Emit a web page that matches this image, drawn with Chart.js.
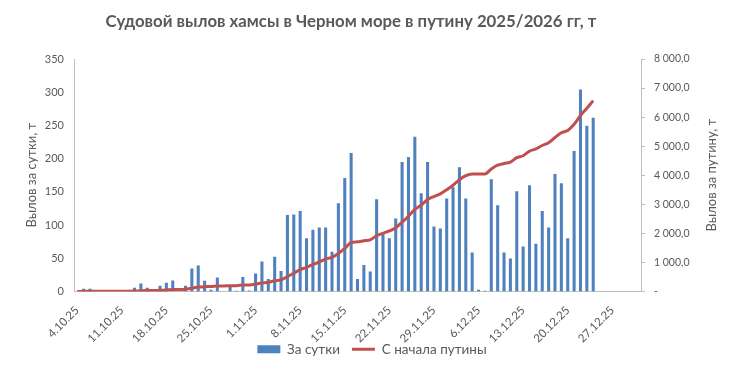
<!DOCTYPE html>
<html>
<head>
<meta charset="utf-8">
<script src="https://cdn.jsdelivr.net/npm/chart.js@4/dist/chart.umd.min.js"></script>
<style>
   html, body { margin: 0; padding: 0; background: #fff; }
   #box { width: 733px; height: 371px; }
</style>
</head>
<body>
<div id="box"><canvas id="chart"></canvas></div>
<script>
// one category per day, 4.10.25 .. 31.12.25
const days = [
   '4.10.25','5.10.25','6.10.25','7.10.25','8.10.25','9.10.25','10.10.25','11.10.25','12.10.25','13.10.25',
   '14.10.25','15.10.25','16.10.25','17.10.25','18.10.25','19.10.25','20.10.25','21.10.25','22.10.25','23.10.25',
   '24.10.25','25.10.25','26.10.25','27.10.25','28.10.25','29.10.25','30.10.25','31.10.25',
   '1.11.25','2.11.25','3.11.25','4.11.25','5.11.25','6.11.25','7.11.25','8.11.25','9.11.25','10.11.25',
   '11.11.25','12.11.25','13.11.25','14.11.25','15.11.25','16.11.25','17.11.25','18.11.25','19.11.25','20.11.25',
   '21.11.25','22.11.25','23.11.25','24.11.25','25.11.25','26.11.25','27.11.25','28.11.25','29.11.25','30.11.25',
   '1.12.25','2.12.25','3.12.25','4.12.25','5.12.25','6.12.25','7.12.25','8.12.25','9.12.25','10.12.25',
   '11.12.25','12.12.25','13.12.25','14.12.25','15.12.25','16.12.25','17.12.25','18.12.25','19.12.25','20.12.25',
   '21.12.25','22.12.25','23.12.25','24.12.25','25.12.25','26.12.25','27.12.25','28.12.25','29.12.25','30.12.25',
   '31.12.25'
];

// labels shown under the x axis
const tickLabels = ['4.10.25','11.10.25','18.10.25','25.10.25','1.11.25','8.11.25','15.11.25',
   '22.11.25','29.11.25','6.12.25','13.12.25','20.12.25','27.12.25'];

// daily catch, t (4.10 .. 24.12)
const perDay = [
   0, 4, 4, 0, 0, 0, 0, 0, 0, 5.5,
   12, 5.5, 0, 8.6, 13, 16.7, 0, 8.6, 34.8, 39,
   16, 2.5, 21, 0, 8.5, 1, 22, 1.5, 27, 45,
   19, 52.5, 31, 115, 116, 121, 80, 93, 96.5, 96.5,
   60, 133, 171, 208.6, 19, 40, 30, 139, 86, 80,
   110, 195, 202.5, 233, 148, 195, 98, 95, 140, 157,
   187, 140, 58.6, 2.5, 1, 169, 130, 58.6, 49.5, 151,
   67.7, 160, 72, 121, 96.5, 177, 163, 80, 211.6, 304,
   249.5, 261.6
];

// running total since the start of the season
const sinceStart = [];
let total = 0;
for (let i = 0; i < perDay.length; i++) {
   total += perDay[i];
   sinceStart.push(Math.round(total * 10) / 10);
}

const chartTitle = 'Судовой вылов хамсы в Черном море в путину 2025/2026 гг, т';
const rightTitle = 'Вылов за путину, т';
const textColor = '#595959';
const axisColor = '#bfbfbf';
const fontName = 'Lato, "Open Sans", sans-serif';

function fmtRight(v) {
   if (v === 0) return '-';
   return v.toFixed(1).replace('.', ',').replace(/\B(?=(\d{3})+(?!\d))/g, ' ');
}

// title and right axis title (Excel writes it bottom-to-top, like the left one)
const extraText = {
   id: 'extraText',
   afterDraw(chart) {
      const ctx = chart.ctx;
      const area = chart.chartArea;
      ctx.save();
      ctx.fillStyle = textColor;
      ctx.textAlign = 'center';
      ctx.textBaseline = 'middle';
      ctx.font = 'bold 16.8px ' + fontName;
      ctx.fillText(chartTitle, 351, 22);
      const s = chart.scales.y1;
      ctx.translate(s.right - 12, (area.top + area.bottom) / 2);
      ctx.rotate(-Math.PI / 2);
      ctx.font = '13px ' + fontName;
      ctx.fillText(rightTitle, 0, 0);
      ctx.restore();
   }
};

new Chart(document.getElementById('chart'), {
   type: 'bar',
   data: {
      labels: days,
      datasets: [{
         type: 'bar',
         label: 'За сутки',
         data: perDay,
         backgroundColor: '#4f81bd',
         borderWidth: 0,
         barPercentage: 0.48,
         categoryPercentage: 1,
         yAxisID: 'y',
         pointStyle: 'rect',
         order: 1
      }, {
         type: 'line',
         label: 'С начала путины',
         data: sinceStart,
         borderColor: '#c0504d',
         backgroundColor: '#c0504d',
         borderWidth: 3,
         pointRadius: 0,
         cubicInterpolationMode: 'monotone',
         yAxisID: 'y1',
         pointStyle: 'line',
         order: 0
      }]
   },
   plugins: [extraText],
   options: {
      responsive: true,
      maintainAspectRatio: false,
      animation: false,
      layout: {
         padding: { left: 20, right: 9, top: 59, bottom: 5 }
      },
      scales: {
         x: {
            offset: true,
            grid: { display: false, drawTicks: false },
            border: { display: true, color: axisColor },
            ticks: {
               autoSkip: false,
               maxRotation: 45,
               minRotation: 45,
               padding: 12,
               color: textColor,
               font: { family: fontName, size: 11.5 },
               callback: function (value, index) {
                  const s = days[index];
                  return tickLabels.indexOf(s) >= 0 ? s : '';
               }
            },
            afterFit: function (scale) {
               scale.height = 39;
               // the rotated dates run a little into the legend band, do not cut them
               scale._computeLabelArea = function () { return undefined; };
            }
         },
         y: {
            position: 'left',
            min: 0,
            max: 350,
            grid: { display: false, drawTicks: false },
            border: { display: true, color: axisColor },
            ticks: {
               stepSize: 50,
               padding: 10,
               color: textColor,
               font: { family: fontName, size: 11 }
            },
            title: {
               display: true,
               text: 'Вылов за сутки, т',
               color: textColor,
               font: { family: fontName, size: 13 }
            },
            afterFit: function (scale) { scale.width = 54; }
         },
         y1: {
            position: 'right',
            min: 0,
            max: 8000,
            grid: { display: true, drawOnChartArea: false, drawTicks: true, tickLength: 4, color: axisColor },
            border: { display: true, color: axisColor },
            ticks: {
               stepSize: 1000,
               padding: 9,
               color: textColor,
               font: { family: fontName, size: 10.5 },
               callback: function (value) { return fmtRight(value); }
            },
            afterFit: function (scale) { scale.width = 83; }
         }
      },
      plugins: {
         title: { display: false },
         legend: {
            position: 'bottom',
            labels: {
               usePointStyle: true,
               pointStyleWidth: 23,
               boxHeight: 8,
               padding: 12,
               color: textColor,
               font: { family: fontName, size: 13.5 },
               sort: function (a, b) { return a.datasetIndex - b.datasetIndex; }
            }
         },
         tooltip: { enabled: false }
      }
   }
});
</script>
</body>
</html>
